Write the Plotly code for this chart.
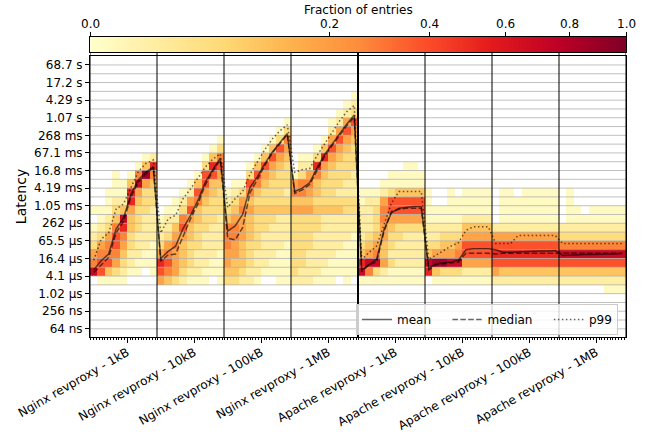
import numpy as np
import plotly.graph_objects as go

# ---------------- data ----------------
groups = ["Nginx revproxy - 1kB", "Nginx revproxy - 10kB", "Nginx revproxy - 100kB",
          "Nginx revproxy - 1MB", "Apache revproxy - 1kB", "Apache revproxy - 10kB",
          "Apache revproxy - 100kB", "Apache revproxy - 1MB"]
N_PER_GROUP = 9          # columns (time slices) per configuration
ROW_MIN = 10             # log2(latency / ns) of the lowest histogram row
N_ROWS = 23              # rows 2^10 .. 2^33 ns

# latency tick labels (log2 ns = 6, 8, ..., 36)
ytick_exp = [6, 8, 10, 12, 14, 16, 18, 20, 22, 24, 26, 28, 30, 32, 34, 36]
ytick_text = ["64 ns", "256 ns", "1.02 µs", "4.1 µs", "16.4 µs", "65.5 µs", "262 µs",
              "1.05 ms", "4.19 ms", "16.8 ms", "67.1 ms", "268 ms", "1.07 s", "4.29 s",
              "17.2 s", "68.7 s"]
cbar_ticks = [0.0, 0.2, 0.4, 0.6, 0.8, 1.0]

# fraction-of-entries levels ('.' = empty bin)
LEVELS = {'0': 0.001, '1': 0.015, '2': 0.05, '3': 0.1, '4': 0.18, '5': 0.27,
          '6': 0.38, '7': 0.52, '8': 0.70, '9': 0.85}

# one string per column, bottom row (2^10 ns) first
nginx_1k = ["..854210.0", ".066542100", ".03655421000", ".0245665321000",
            ".012345783100", "..011223347730", "..0011122234850",
            "...0011112224930", "..00001111223571"]
nginx_10k = [".46742110", ".356542110", ".2444543100", ".12333465210",
             ".012223346410", ".0111222335630", ".001111222346620",
             "..001111222336730", ".00001111222346520"]
nginx_100k = [".23445553210", ".233445543210", ".123334445420", ".11222333435620",
              ".011122223235630", "..011112232234630", "..0011112322234630",
              ".000011113222234620", ".0000011132122234520"]
nginx_1m = [".1222222243540", ".112222224355210", ".111122224345410",
            ".0111112232335720", ".00111111322234730", ".0001111132222346410",
            "..0001111321222346410", ".000001112211222346410",
            "..000001122111222346210"]
apache_1k = [".08732111100", ".05843211110", ".02854322210", ".014334455410",
             ".0021223466200", ".0011122466300", ".00111124663000",
             ".00111124663000", ".0011112466300"]
apache_10k = ["..7832110000", ".039421100", ".029432100", ".02843210000",
              ".0285421000", ".01466431000", ".01466431000", ".01466431000",
              ".01466431000"]
apache_100k = [".1467641", ".13676410000", ".13676410000", ".1367641000",
               ".13676410000", ".13676410000", ".13676410000", ".13676410000",
               ".13676410000"]
apache_1m = [".1368521", ".13685210000", ".136852100", ".13685210",
             ".136852100", ".136852100", "0136852100", "0136852100", "0136852100"]
histograms = [nginx_1k, nginx_10k, nginx_100k, nginx_1m,
              apache_1k, apache_10k, apache_100k, apache_1m]

# statistics per column, in log2(latency / ns)
mean = [12.7, 13.75, 14.5, 17.35, 18.6, 21.3, 22.95, 23.8, 24.45,
        14.0, 14.8, 15.4, 17.4, 18.9, 20.6, 22.7, 24.1, 25.4,
        17.1, 17.7, 19.0, 22.1, 23.3, 24.8, 26.1, 27.1, 28.2,
        21.6, 22.0, 22.6, 24.3, 25.8, 27.0, 28.2, 29.3, 30.3,
        12.7, 13.3, 13.9, 17.3, 19.2, 19.7, 19.8, 19.9, 19.9,
        12.9, 13.4, 13.5, 13.6, 13.8, 15.0, 15.1, 15.1, 15.1,
        15.0, 14.7, 14.7, 14.75, 14.8, 14.8, 14.85, 14.85, 14.9,
        14.35, 14.4, 14.4, 14.45, 14.45, 14.5, 14.5, 14.5, 14.55]
median = [12.4, 13.3, 14.1, 16.9, 18.2, 21.0, 22.7, 23.6, 24.3,
          13.7, 14.4, 14.5, 16.6, 18.5, 20.2, 22.4, 23.9, 25.2,
          16.3, 16.1, 17.5, 21.5, 23.0, 24.6, 26.0, 27.0, 28.1,
          21.4, 21.8, 22.4, 24.0, 25.6, 26.8, 28.0, 29.1, 30.1,
          12.5, 13.3, 13.6, 17.1, 19.35, 19.6, 19.7, 19.7, 19.7,
          12.7, 13.3, 13.4, 13.5, 13.6, 14.6, 14.6, 14.6, 14.6,
          14.5, 14.6, 14.6, 14.6, 14.6, 14.6, 14.6, 14.6, 14.6,
          14.55, 14.6, 14.6, 14.6, 14.6, 14.6, 14.6, 14.6, 14.6]
p99 = [13.8, 16.2, 16.9, 19.6, 20.2, 22.0, 23.9, 24.8, 25.2,
       16.9, 18.5, 18.9, 20.8, 21.9, 23.1, 24.4, 25.3, 25.9,
       19.8, 20.8, 21.6, 23.6, 25.0, 26.4, 27.6, 28.5, 29.2,
       23.8, 24.1, 24.2, 25.7, 27.0, 28.4, 29.6, 30.7, 31.4,
       13.85, 14.7, 15.4, 17.8, 20.3, 21.6, 21.6, 21.6, 21.6,
       13.9, 14.4, 14.9, 15.4, 15.8, 17.2, 17.6, 17.6, 17.6,
       15.7, 15.7, 15.7, 16.6, 16.6, 16.6, 16.6, 16.6, 16.6,
       15.7, 15.7, 15.7, 15.7, 15.7, 15.7, 15.7, 15.7, 15.7]

# ---------------- build ----------------
n_cols = N_PER_GROUP * len(groups)
Z = np.full((N_ROWS, n_cols), np.nan)
for g, cols in enumerate(histograms):
    for c, s in enumerate(cols):
        for i, ch in enumerate(s):
            if ch != '.':
                Z[i, g * N_PER_GROUP + c] = LEVELS[ch]
Zc = np.sqrt(Z)  # PowerNorm(gamma=0.5) colour mapping

x_cols = np.arange(n_cols)
y_rows = np.arange(ROW_MIN, ROW_MIN + N_ROWS) + 0.5

YLORRD = ['#ffffcc', '#ffeda0', '#fed976', '#feb24c', '#fd8d3c',
          '#fc4e2a', '#e31a1c', '#bd0026', '#800026']
cscale = [[i / 8, c] for i, c in enumerate(YLORRD)]

W, H = 649, 433
L, R, T, B = 90, 23, 0, 96
PH = H - T - B


def ypx(px):
    """figure pixel row -> paper coordinate"""
    return (H - B - px) / PH


main_dom = [0, ypx(56)]
cb_dom = [ypx(52), ypx(37)]

YR = [5.07, 37.02]
XR = [-0.5, n_cols - 0.5]

fig = go.Figure()
fig.add_trace(go.Heatmap(z=Zc, x=x_cols, y=y_rows, colorscale=cscale, zmin=0, zmax=1,
                         showscale=False, hoverinfo='skip', xaxis='x', yaxis='y'))

# horizontal grid (drawn above the histogram, below the statistic lines)
gx, gy = [], []
for v in range(6, 37):
    gx += [XR[0], XR[1], None]
    gy += [v, v, None]
fig.add_trace(go.Scatter(x=gx, y=gy, mode='lines', line=dict(color='#b0b0b0', width=0.8),
                         hoverinfo='skip', showlegend=False))

line_col = 'rgba(0,0,0,0.6)'
NB = '\u00a0'
fig.add_trace(go.Scatter(x=x_cols, y=mean, mode='lines', name='mean' + NB * 3,
                         line=dict(color=line_col, width=1.5)))
fig.add_trace(go.Scatter(x=x_cols, y=median, mode='lines', name='median' + NB * 3,
                         line=dict(color=line_col, width=1.5, dash='5.5px,2.4px')))
fig.add_trace(go.Scatter(x=x_cols, y=p99, mode='lines', name='p99',
                         line=dict(color=line_col, width=1.5, dash='1.5px,2.5px')))

# colour bar as its own small axes
cb_pos = np.linspace(0, 1, 401)
fig.add_trace(go.Heatmap(z=[cb_pos], x=cb_pos, y=[0], colorscale=cscale, zmin=0, zmax=1,
                         showscale=False, hoverinfo='skip', xaxis='x2', yaxis='y2'))

# group separators
for g in range(len(groups) + 1):
    xs = g * N_PER_GROUP - 0.5
    fig.add_shape(type='line', xref='x', yref='paper', x0=xs, x1=xs, y0=0, y1=cb_dom[0],
                  line=dict(color='black', width=2 if g == 4 else 1), layer='above')

font = dict(family='DejaVu Sans', size=12, color='black')

# colour-bar tick labels and title
for t in cbar_ticks:
    fig.add_annotation(x=float(np.sqrt(t)), xref='x2', y=ypx(24), yref='paper',
                       text='%.1f' % t, showarrow=False, xanchor='center',
                       yanchor='middle', font=font)
fig.add_annotation(x=0.5, xref='x2', y=ypx(9.5), yref='paper', text='Fraction of entries',
                   showarrow=False, xanchor='center', yanchor='middle', font=font)

group_ticks = [g * N_PER_GROUP + 4.5 for g in range(len(groups))]
fig.update_layout(
    width=W, height=H, margin=dict(l=L, r=R, t=T, b=B, pad=0),
    paper_bgcolor='white', plot_bgcolor='white', font=font,
    xaxis=dict(domain=[0, 1], range=XR, tickmode='array', tickvals=group_ticks,
               ticktext=groups, tickangle=-30, ticks='outside', ticklen=5, tickcolor='black',
               ticklabelstandoff=-2,
               showline=True, linecolor='black', linewidth=1, mirror=True,
               showgrid=False, zeroline=False, automargin=False,
               minor=dict(tickmode='linear', tick0=4.5, dtick=0.375, ticks='outside',
                          ticklen=2, tickcolor='black', showgrid=False)),
    yaxis=dict(domain=main_dom, range=YR, tickmode='array', tickvals=ytick_exp,
               ticktext=ytick_text, ticks='outside', ticklen=4, tickcolor='black',
               showline=True, linecolor='black', linewidth=1, mirror=True,
               showgrid=False, zeroline=False, automargin=False,
               title=dict(text='Latency', standoff=4)),
    xaxis2=dict(domain=[0, 1], range=[0, 1], anchor='y2', side='top', tickmode='array',
                tickvals=[float(np.sqrt(t)) for t in cbar_ticks],
                showticklabels=False, ticks='outside', ticklen=4,
                tickcolor='black', showline=True, linecolor='black', linewidth=1,
                mirror=True, showgrid=False, zeroline=False, automargin=False),
    yaxis2=dict(domain=cb_dom, range=[-0.5, 0.5], anchor='x2', showticklabels=False,
                ticks='', showline=True, linecolor='black', linewidth=1, mirror=True,
                showgrid=False, zeroline=False, automargin=False),
    legend=dict(orientation='h', x=0.985, xanchor='right', y=ypx(335),
                yanchor='bottom', bgcolor='rgba(255,255,255,0.8)', bordercolor='#cccccc',
                borderwidth=1, font=font),
)

fig.write_html("out.html")
